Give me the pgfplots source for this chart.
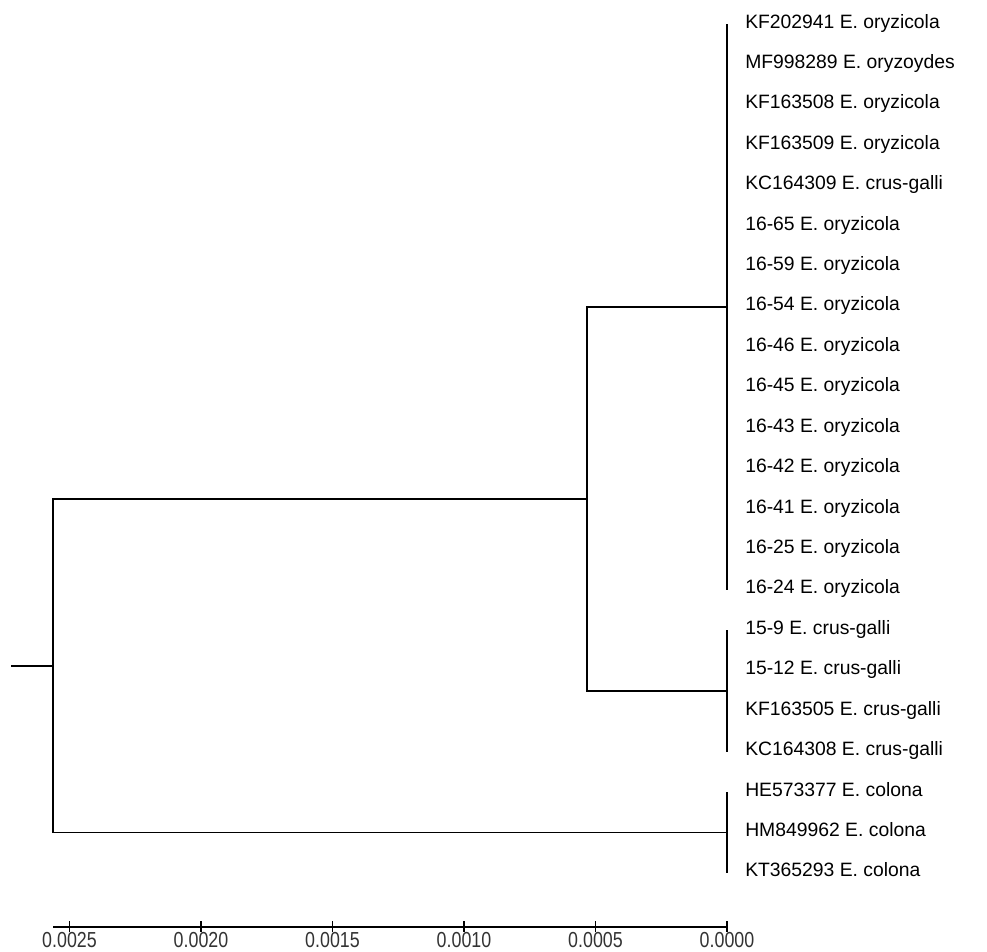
\documentclass[border=0pt]{standalone}
\usepackage{pgfplots}
\pgfplotsset{compat=1.18}
\usepackage{fontspec}
\setmainfont{Liberation Sans}
\newfontfamily\tickfont[FakeStretch=0.82]{Liberation Sans}

\begin{document}
\begin{tikzpicture}
\begin{axis}[
  scale only axis, width=505.5pt, height=695pt,
  xmin=0, xmax=0.002563, x dir=reverse,
  ymin=-22.33, ymax=0.594,
  axis y line=none, axis x line*=bottom,
  clip=false,
  xtick={0,0.0005,0.001,0.0015,0.002,0.0025},
  scaled x ticks=false,
  xticklabel style={/pgf/number format/fixed, /pgf/number format/precision=4,
    /pgf/number format/fixed zerofill, /pgf/number format/assume math mode=true,
    font=\tickfont\fontsize{16.3pt}{18pt}\selectfont, text=black!80, inner sep=0pt, anchor=north},
  tick align=center, major tick length=8pt,
  every tick/.style={black, line width=1.2pt},
  axis line style={line width=1.4pt, black},
]
% tree branches
\addplot[black, line width=1.4pt, line join=miter] coordinates {(0,-20) (0.002563,-20) (0.002563,-11.75) (0.000532,-11.75)};
\addplot[black, line width=1.4pt, line join=miter] coordinates {(0,-7) (0.000532,-7) (0.000532,-16.5) (0,-16.5)};
\addplot[black, line width=1.4pt] coordinates {(0.002722,-15.875) (0.002563,-15.875)};
\addplot[black, line width=1.4pt] coordinates {(0,0) (0,-14)};
\addplot[black, line width=1.4pt] coordinates {(0,-15) (0,-18)};
\addplot[black, line width=1.4pt] coordinates {(0,-19) (0,-21)};
% tip labels
\addplot[only marks, mark=none, nodes near coords, point meta=explicit symbolic,
  nodes near coords style={anchor=base west, inner sep=0pt, xshift=13.5pt, yshift=-3pt,
    font=\fontsize{14.5pt}{16pt}\selectfont, text=black}]
  table[col sep=comma, meta=label] {
x,y,label
0,0,KF202941 E. oryzicola
0,-1,MF998289 E. oryzoydes
0,-2,KF163508 E. oryzicola
0,-3,KF163509 E. oryzicola
0,-4,KC164309 E. crus-galli
0,-5,16-65 E. oryzicola
0,-6,16-59 E. oryzicola
0,-7,16-54 E. oryzicola
0,-8,16-46 E. oryzicola
0,-9,16-45 E. oryzicola
0,-10,16-43 E. oryzicola
0,-11,16-42 E. oryzicola
0,-12,16-41 E. oryzicola
0,-13,16-25 E. oryzicola
0,-14,16-24 E. oryzicola
0,-15,15-9 E. crus-galli
0,-16,15-12 E. crus-galli
0,-17,KF163505 E. crus-galli
0,-18,KC164308 E. crus-galli
0,-19,HE573377 E. colona
0,-20,HM849962 E. colona
0,-21,KT365293 E. colona
};
\coordinate (bbsw) at (axis cs:0.0027643,-22.953);
\coordinate (bbne) at (axis cs:-0.0009886,0.594);
\end{axis}
\pgfresetboundingbox
\useasboundingbox (bbsw) rectangle (bbne);
\end{tikzpicture}
\end{document}
